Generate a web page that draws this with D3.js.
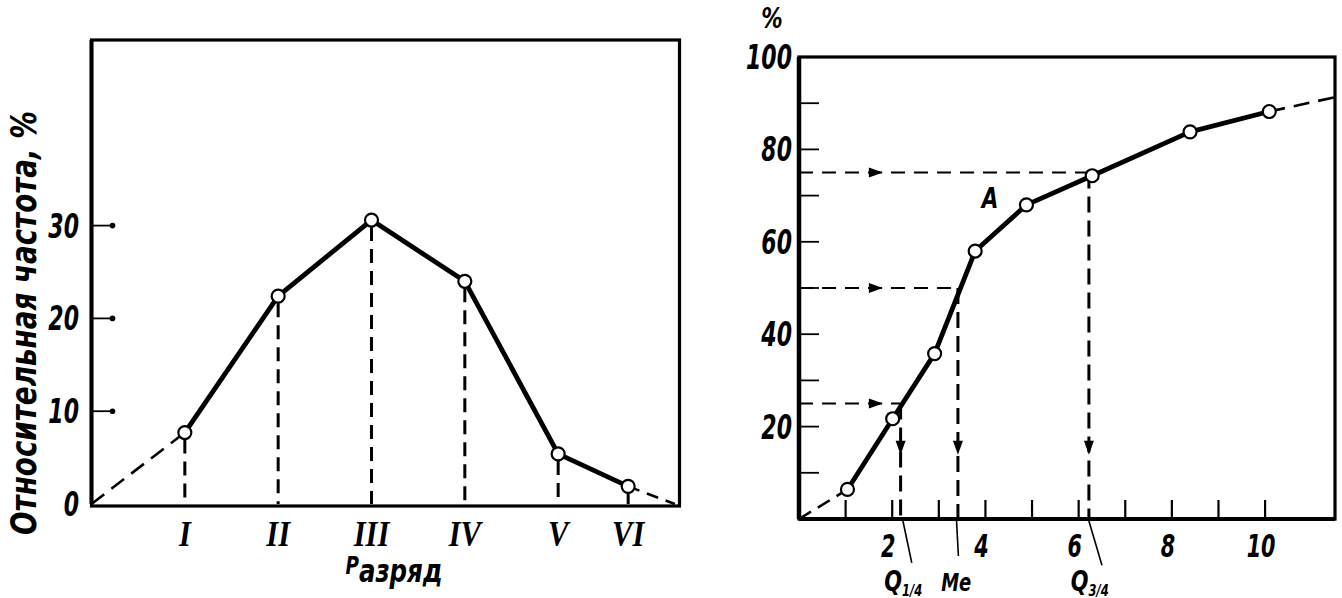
<!DOCTYPE html>
<html><head><meta charset="utf-8">
<script src="https://cdn.jsdelivr.net/npm/d3@7"></script>
<style>html,body{margin:0;padding:0;background:#fff;}svg{display:block;}</style>
</head><body>
<svg id="c" width="1342" height="598"></svg>
<script>
// ---- Left chart data (polygon of relative frequency) ----
const classes = ["I","II","III","IV","V","VI"];
const classPos = [1,2,3,4,5,5.75];
const relFreq = [7.7,22.4,30.6,24.0,5.4,1.9];
const leftYTicks = [0,10,20,30];
const leftStart = {x:0, y:0};
const leftEnd = {x:6.25, y:0};

// ---- Right chart data (cumulative curve) ----
const cumX = [1.04,2.01,2.91,3.78,4.88,6.29,8.39,10.09];
const cumY = [6.4,21.7,35.8,58.0,68.0,74.3,83.8,88.2];
const rightStart = {x:0, y:0};
const rightEnd = {x:11.5, y:91.3};
const rightYLabels = [20,40,60,80,100];
const rightYMinor = [10,20,30,40,50,60,70,80,90];
const rightXLabels = [2,4,6,8,10];
const rightXMinor = [1,2,3,4,5,6,7,8,9,10];
const quartiles = [
  {p:25, x:2.18, name:"Q", sub:"1/4", labelX:1.83},
  {p:50, x:3.41, name:"Me", sub:"", labelX:3.05},
  {p:75, x:6.22, name:"Q", sub:"3/4", labelX:5.83}
];
const pointLabel = {text:"A", x:4.1, y:68};

const FONT = "'DejaVu Sans Condensed','DejaVu Sans',sans-serif";
const SERIF = "'Liberation Serif','DejaVu Serif',serif";
const svg = d3.select("#c");

function txt(g, s, x, y, size, anchor, fam, sx){
  const t = g.append("text").attr("x",0).attr("y",0).text(s)
    .attr("font-family", fam||FONT).attr("font-size",size)
    .attr("font-weight","bold").attr("font-style","italic")
    .attr("text-anchor",anchor||"middle").attr("fill","#000")
    .attr("transform",`translate(${x},${y}) scale(${sx||1},1)`);
  return t;
}
function arrowHead(g, x, y, dir){
  const L=14, W=5;
  const pts = dir==="right"
    ? [[x+L/2,y],[x-L/2,y-W],[x-L/2,y+W]]
    : [[x,y+L/2],[x-W,y-L/2],[x+W,y-L/2]];
  g.append("path").attr("d","M"+pts.map(p=>p.join(",")).join("L")+"Z").attr("fill","#000");
}

// ================= LEFT =================
const L = svg.append("g");
const lx = d3.scaleLinear().domain([0,6.3]).range([91.5,679.5]);
const ly = d3.scaleLinear().domain([0,50]).range([504,40]);

L.append("rect").attr("x",lx(0)).attr("y",ly(50)).attr("width",lx(6.3)-lx(0)).attr("height",ly(0)-ly(50)+2)
 .attr("fill","none").attr("stroke","#000").attr("stroke-width",3.2);
L.append("line").attr("x1",lx(0)).attr("x2",lx(0)).attr("y1",ly(50)).attr("y2",ly(0)).attr("stroke","#000").attr("stroke-width",4);

leftYTicks.forEach(t=>{
  if(t>0){
    L.append("line").attr("x1",lx(0)).attr("x2",lx(0)+22).attr("y1",ly(t)).attr("y2",ly(t)).attr("stroke","#000").attr("stroke-width",1.8);
    L.append("circle").attr("cx",lx(0)+21).attr("cy",ly(t)).attr("r",2.8).attr("fill","#000");
  }
  txt(L, String(t), 79, ly(t)+12, 34, "end", FONT, 0.72);
});

classPos.forEach((p,i)=>{
  L.append("line").attr("x1",lx(p)).attr("x2",lx(p)).attr("y1",ly(relFreq[i])+7).attr("y2",ly(0))
   .attr("stroke","#000").attr("stroke-width",3).attr("stroke-dasharray","14,8");
});
L.append("line").attr("x1",lx(leftStart.x)).attr("y1",ly(leftStart.y)).attr("x2",lx(classPos[0])).attr("y2",ly(relFreq[0]))
 .attr("stroke","#000").attr("stroke-width",2.6).attr("stroke-dasharray","16,9");
L.append("line").attr("x1",lx(classPos[5])).attr("y1",ly(relFreq[5])).attr("x2",lx(leftEnd.x)).attr("y2",ly(leftEnd.y))
 .attr("stroke","#000").attr("stroke-width",2.6).attr("stroke-dasharray","12,8");
L.append("path").datum(classPos.map((p,i)=>[p,relFreq[i]]))
 .attr("d", d3.line().x(d=>lx(d[0])).y(d=>ly(d[1])))
 .attr("fill","none").attr("stroke","#000").attr("stroke-width",4.8).attr("stroke-linejoin","round");
classPos.forEach((p,i)=>{
  L.append("circle").attr("cx",lx(p)).attr("cy",ly(relFreq[i])).attr("r",6.5).attr("fill","#fff").attr("stroke","#000").attr("stroke-width",2.2);
  txt(L, classes[i], lx(p), 546, 36, "middle", SERIF, 0.85);
});
const xl = txt(L, "", 394, 582, 32, "middle", FONT, 0.85);
xl.append("tspan").text("Р").attr("font-size",24).attr("dy",-8);
xl.append("tspan").text("азряд").attr("dy",8);
txt(L, "Относительная частота, %", 0, 0, 35, "middle")
  .attr("transform","translate(36,323) rotate(-90)")
  .attr("textLength",424).attr("lengthAdjust","spacingAndGlyphs");

// ================= RIGHT =================
const R = svg.append("g");
const rx = d3.scaleLinear().domain([0,11.5]).range([799,1335]);
const ry = d3.scaleLinear().domain([0,100]).range([519,57]);

R.append("rect").attr("x",rx(0)).attr("y",ry(100)).attr("width",rx(11.5)-rx(0)).attr("height",ry(0)-ry(100))
 .attr("fill","none").attr("stroke","#000").attr("stroke-width",3.2);
R.append("line").attr("x1",rx(0)).attr("x2",rx(0)).attr("y1",ry(100)).attr("y2",ry(0)).attr("stroke","#000").attr("stroke-width",4.5);
R.append("line").attr("x1",rx(0)).attr("x2",rx(11.5)).attr("y1",ry(0)).attr("y2",ry(0)).attr("stroke","#000").attr("stroke-width",4);

rightYMinor.forEach(t=>{
  R.append("line").attr("x1",rx(0)).attr("x2",rx(0)+20).attr("y1",ry(t)).attr("y2",ry(t)).attr("stroke","#000").attr("stroke-width",1.8);
});
rightYLabels.forEach(t=>{ txt(R, String(t), 792, ry(t)+12, 34, "end", FONT, 0.72); });
txt(R, "%", 772, 28, 28, "middle", FONT, 0.85);

rightXMinor.forEach(t=>{
  R.append("line").attr("x1",rx(t)).attr("x2",rx(t)).attr("y1",ry(0)).attr("y2",ry(0)-19).attr("stroke","#000").attr("stroke-width",2.2);
});
rightXLabels.forEach(t=>{ txt(R, String(t), rx(t)-4, 557, 32, "middle", FONT, 0.72); });

quartiles.forEach(q=>{
  R.append("line").attr("x1",rx(0)).attr("x2",rx(q.x)).attr("y1",ry(q.p)).attr("y2",ry(q.p))
   .attr("stroke","#000").attr("stroke-width",2).attr("stroke-dasharray","14,9");
  arrowHead(R, rx(1.65), ry(q.p), "right");
  R.append("line").attr("x1",rx(q.x)).attr("x2",rx(q.x)).attr("y1",ry(q.p)).attr("y2",ry(0))
   .attr("stroke","#000").attr("stroke-width",3).attr("stroke-dasharray","16,8");
  arrowHead(R, rx(q.x), ry(15.4), "down");
});
const leaders = [[[2.23,0],[2.42,-9.5]],[[3.38,0],[3.42,-8]],[[6.22,0],[6.5,-10]]];
leaders.forEach(l=>{
  R.append("line").attr("x1",rx(l[0][0])).attr("y1",ry(l[0][1])+2).attr("x2",rx(l[1][0])).attr("y2",ry(l[1][1]))
   .attr("stroke","#000").attr("stroke-width",1.6);
});
quartiles.forEach((q,i)=>{
  const t = txt(R, "", rx(q.labelX), 591, i===1?25:29, "start", FONT, 0.8);
  t.append("tspan").text(q.name);
  if(q.sub) t.append("tspan").text(q.sub).attr("font-size",16).attr("dy",5);
});

R.append("line").attr("x1",rx(rightStart.x)).attr("y1",ry(rightStart.y)).attr("x2",rx(cumX[0])).attr("y2",ry(cumY[0]))
 .attr("stroke","#000").attr("stroke-width",2.6).attr("stroke-dasharray","14,8");
R.append("line").attr("x1",rx(cumX[7])).attr("y1",ry(cumY[7])).attr("x2",rx(rightEnd.x)).attr("y2",ry(rightEnd.y))
 .attr("stroke","#000").attr("stroke-width",2.6).attr("stroke-dasharray","16,9");
R.append("path").datum(cumX.map((x,i)=>[x,cumY[i]]))
 .attr("d", d3.line().x(d=>rx(d[0])).y(d=>ry(d[1])))
 .attr("fill","none").attr("stroke","#000").attr("stroke-width",4.8).attr("stroke-linejoin","round");
cumX.forEach((x,i)=>{
  R.append("circle").attr("cx",rx(x)).attr("cy",ry(cumY[i])).attr("r",6.5).attr("fill","#fff").attr("stroke","#000").attr("stroke-width",2.2);
});
txt(R, pointLabel.text, rx(pointLabel.x), ry(pointLabel.y)+3, 28, "middle", FONT, 0.85);
</script>
</body></html>
